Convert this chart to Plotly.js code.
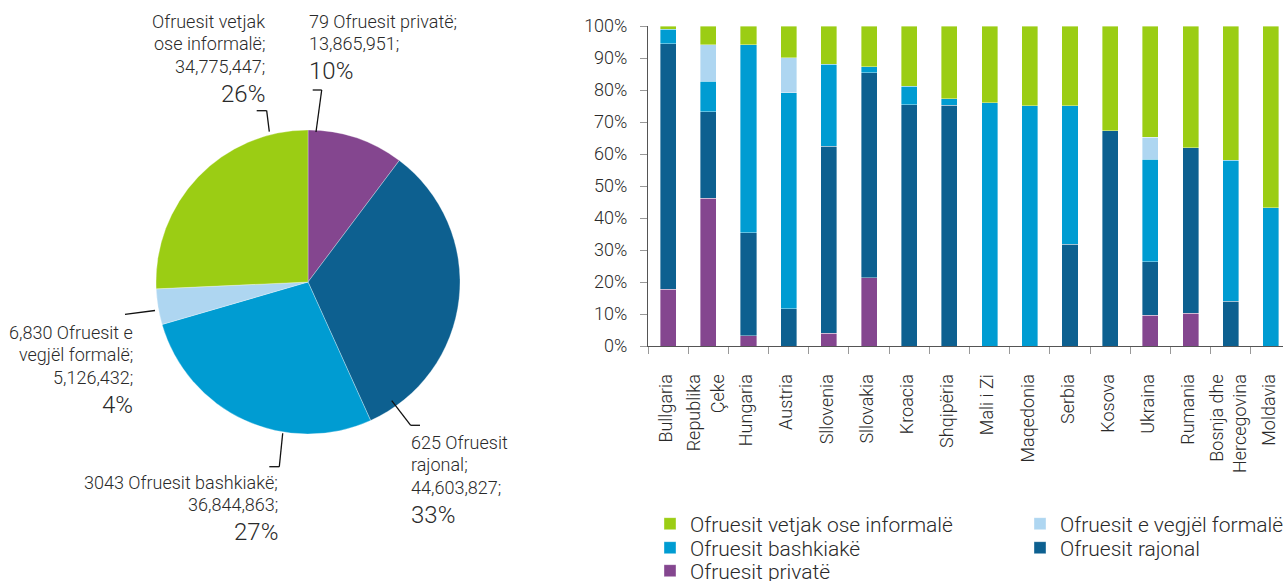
<!DOCTYPE html>
<html>
<head>
<meta charset="utf-8">
<script src="https://cdn.plot.ly/plotly-3.0.1.min.js"></script>
<style>html,body{margin:0;padding:0;background:#fff;}#chart{width:1283px;height:581px;}</style>
</head>
<body>
<div id="chart"></div>
<script>
// ---------- Pie data ----------
var pieNames = ["Ofruesit privatë", "Ofruesit rajonal", "Ofruesit bashkiakë", "Ofruesit e vegjël formalë", "Ofruesit vetjak ose informalë"];
var pieValues = [13865951, 44603827, 36844863, 5126432, 34775447];
var pieLabelLines = [
  ["79 Ofruesit privatë;", "{v};"],
  ["625 Ofruesit", "rajonal;", "{v};"],
  ["3043 Ofruesit bashkiakë;", "{v};"],
  ["6,830 Ofruesit e", "vegjël formalë;", "{v};"],
  ["Ofruesit vetjak", "ose informalë;", "{v};"]
];

// ---------- Bar data (percent shares) ----------
var countries = ["Bullgaria", "Republika<br>Çeke", "Hungaria", "Austria", "Sllovenia", "Sllovakia", "Kroacia", "Shqipëria", "Mali i Zi", "Maqedonia", "Serbia", "Kosova", "Ukraina", "Rumania", "Bosnja dhe<br>Hercegovina", "Moldavia"];
var privatë  = [17.7, 46.2, 3.2, 0, 4.0, 21.4, 0, 0, 0, 0, 0, 0, 9.6, 10.2, 0, 0];
var rajonal  = [76.7, 27.0, 32.2, 11.6, 58.4, 64.0, 75.4, 75.2, 0, 0, 31.8, 67.2, 16.8, 51.8, 14.0, 0];
var bashkiakë = [4.6, 9.6, 58.7, 67.5, 25.7, 1.8, 5.7, 2.0, 76.0, 75.1, 43.3, 0, 32.0, 0, 44.1, 43.2];
var vegjël   = [0, 11.3, 0, 11.0, 0, 0, 0, 0, 0, 0, 0, 0, 6.8, 0, 0, 0];
var vetjak   = [1.0, 5.9, 5.9, 9.9, 11.9, 12.8, 18.9, 22.8, 24.0, 24.9, 24.9, 32.8, 34.8, 38.0, 41.9, 56.8];
var yTicks = [0, 10, 20, 30, 40, 50, 60, 70, 80, 90, 100];
var yTickText = ["0%", "10%", "20%", "30%", "40%", "50%", "60%", "70%", "80%", "90%", "100%"];

// ---------- Styles ----------
var C = {
  privatë: "#84468F",
  rajonal: "#0D6090",
  bashkiakë: "#009CD2",
  vegjël: "#AED6F1",
  vetjak: "#9BCD14"
};
var pieColors = [C.privatë, C.rajonal, C.bashkiakë, C.vegjël, C.vetjak];
var W = 1283, H = 581;
function px(x){ return x / W; }
function py(y){ return 1 - y / H; }
function nz(a){ return a.map(function(v){ return v === 0 ? null : v; }); }
var FONT = "Roboto, 'Open Sans', sans-serif";
var TXT = "#2a2a2a";

var traces = [];
traces.push({
  type: "pie", values: pieValues, labels: pieNames, sort: false, direction: "clockwise", rotation: 0,
  marker: {colors: pieColors, line: {color: "rgba(255,255,255,0.5)", width: 0.6}},
  textinfo: "none", textposition: "none", hoverinfo: "label+value+percent", showlegend: false,
  domain: {x: [px(156), px(460)], y: [py(434), py(130)]}
});

function barTrace(name, vals, color, legend){
  return {type: "bar", name: name, x: countries, y: nz(vals),
    marker: {color: color, line: {color: "rgba(255,255,255,0.55)", width: 0.7}},
    xaxis: "x", yaxis: "y", legend: legend, hovertemplate: "%{x}: %{y:.1f}%<extra>" + name + "</extra>"};
}
traces.push(barTrace(pieNames[0], privatë, C.privatë, "legend5"));
traces.push(barTrace(pieNames[1], rajonal, C.rajonal, "legend4"));
traces.push(barTrace(pieNames[2], bashkiakë, C.bashkiakë, "legend3"));
traces.push(barTrace(pieNames[3], vegjël, C.vegjël, "legend2"));
traces.push(barTrace(pieNames[4], vetjak, C.vetjak, "legend"));

// ---------- Pie labels as annotations ----------
var total = pieValues.reduce(function(a,b){return a+b;}, 0);
var labelPos = [
  [307, 21, "left"],
  [409, 442, "left"],
  [280, 482, "right"],
  [135, 332, "right"],
  [267, 21, "right"]
];
var LINE = 22.8, PCTGAP = 27;
var annotations = [];
pieLabelLines.forEach(function(lines, i){
  var p = labelPos[i];
  var y = p[1];
  lines.forEach(function(l, k){
    var t = l.replace("{v}", pieValues[i].toLocaleString("en-US"));
    annotations.push({xref: "paper", yref: "paper", x: px(p[0]), y: py(y + LINE * k), text: t,
      showarrow: false, xanchor: p[2], yanchor: "middle", align: p[2],
      font: {family: FONT, size: 18, color: TXT, weight: 300}});
  });
  var pct = Math.round(pieValues[i] / total * 100) + "%";
  annotations.push({xref: "paper", yref: "paper", x: px(p[0]), y: py(y + LINE * (lines.length - 1) + PCTGAP), text: pct,
    showarrow: false, xanchor: p[2], yanchor: "middle", align: p[2],
    font: {family: FONT, size: 24, color: TXT, weight: 300}});
});

// ---------- Leader lines ----------
var leaders = [
  [[316,132],[321.7,90],[312.7,90]],
  [[391.7,400.7],[410.7,425.3],[420,425.3]],
  [[282.7,433.3],[279.3,466.7],[269.3,466.7]],
  [[155,310.5],[125,314.3]],
  [[269.3,131.7],[266.7,110.7],[256.7,110.7]]
];
var shapes = [];
leaders.forEach(function(pts){
  for (var k = 0; k < pts.length - 1; k++){
    shapes.push({type: "line", xref: "paper", yref: "paper",
      x0: px(pts[k][0]), y0: py(pts[k][1]), x1: px(pts[k+1][0]), y1: py(pts[k+1][1]),
      line: {color: "#111", width: 1.3}});
  }
});

var legendFont = {family: FONT, size: 21, color: TXT, weight: 300};
function leg(x, y){
  return {x: px(x), y: py(y), xanchor: "left", yanchor: "middle", orientation: "v",
    font: legendFont, bgcolor: "rgba(0,0,0,0)", borderwidth: 0};
}
var layout = {
  width: W, height: H,
  margin: {l: 0, r: 0, t: 0, b: 0, autoexpand: false},
  paper_bgcolor: "#fff", plot_bgcolor: "#fff",
  font: {family: FONT, size: 15, color: TXT, weight: 300},
  barmode: "stack", bargap: 0.6,
  xaxis: {domain: [px(648), 1], range: [-0.5, 15.3], type: "category", showgrid: false, zeroline: false, automargin: false,
    showline: true, linecolor: "#555", linewidth: 1, ticks: "outside", tickson: "boundaries", ticklen: 7, tickcolor: "#999",
    tickangle: -90, tickfont: {family: FONT, size: 18, color: TXT, weight: 300}, ticklabelshift: -2, ticklabelstandoff: 20,
    fixedrange: true},
  yaxis: {domain: [py(346), py(26)], range: [0, 100], tickvals: yTicks, ticktext: yTickText, showgrid: false, zeroline: false, automargin: false,
    showline: true, linecolor: "#555", linewidth: 1, ticks: "outside", ticklen: 7, tickcolor: "#999",
    tickfont: {family: FONT, size: 18, color: TXT, weight: 300}, ticklabelstandoff: 9, fixedrange: true},
  showlegend: true,
  legend: leg(650, 524),
  legend3: leg(650, 548),
  legend5: leg(650, 571),
  legend2: leg(1020, 524),
  legend4: leg(1020, 548),
  annotations: annotations,
  shapes: shapes
};

Plotly.newPlot("chart", traces, layout, {displayModeBar: false, staticPlot: true});
</script>
</body>
</html>
